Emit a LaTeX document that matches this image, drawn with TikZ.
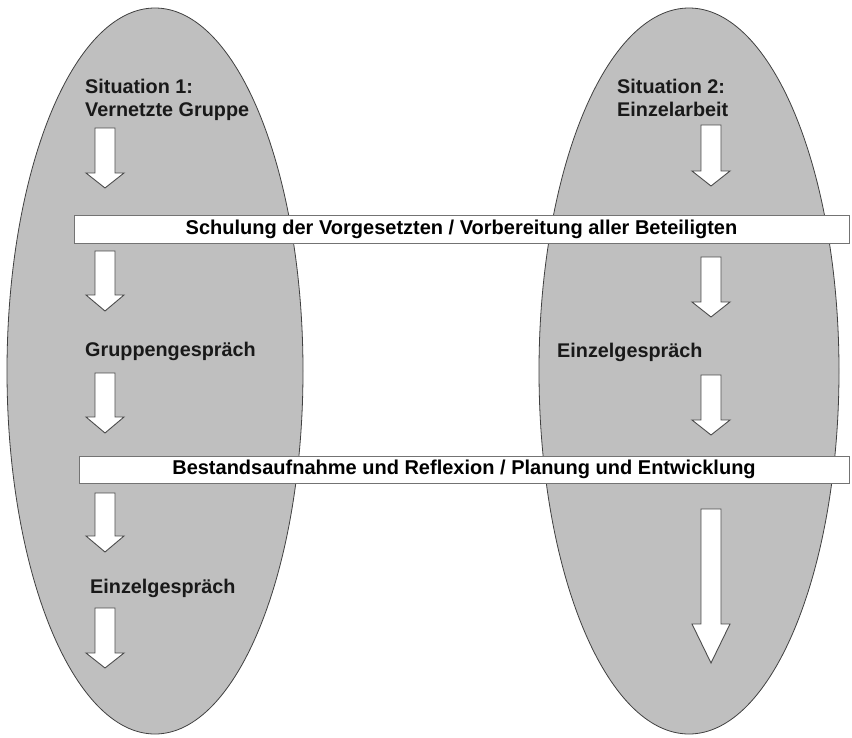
\documentclass[tikz,border=0pt]{standalone}
\usepackage{fontspec}
\setmainfont{Liberation Sans}
\tikzset{
  oval/.style={fill=black!25, draw=black!75, line width=0.8pt},
  banner/.style={draw=black!55, fill=white, line width=0.9pt, inner sep=0pt,
    font=\fontsize{20}{23}\bfseries\selectfont},
  label/.style={inner sep=0pt, align=left, text=black!90,
    font=\fontsize{19.8}{23}\bfseries\selectfont},
  arrowbox/.style={draw=black!70, fill=white, line width=0.9pt, line join=miter}
}
% x, top, start of head, tip
\newcommand{\blockdown}[4]{%
  \draw[arrowbox] (#1-10,#2) -- (#1+10,#2) -- (#1+10,#3) -- (#1+19,#3)
    -- (#1,#4) -- (#1-19,#3) -- (#1-10,#3) -- cycle;}
\begin{document}
\begin{tikzpicture}[x=1pt, y=-1pt]
        \useasboundingbox (0,0) rectangle (852,737);
        \fill[white] (0,0) rectangle (852,737);

        \draw[oval] (155,371) ellipse (148 and 363);
        \draw[oval] (689,371) ellipse (150 and 363);

        \node[label, anchor=north west] (sit1) at (85,79) {Situation 1:\\Vernetzte Gruppe};
        \node[label, anchor=north west] (sit2) at (617,79) {Situation 2:\\Einzelarbeit};

        \foreach \t/\h/\e in {128/173/188, 251/295/311, 373/417/433, 493/536/552, 608/653/668}
          {\blockdown{105}{\t}{\h}{\e}}
        \foreach \t/\h/\e in {125/171/186, 257/302/317, 375/420/435, 509/624/663}
          {\blockdown{711}{\t}{\h}{\e}}

        \node[banner, minimum width=775pt, minimum height=28pt] (schulung) at (461.5,229)
          {Schulung der Vorgesetzten / Vorbereitung aller Beteiligten};
        \node[banner, minimum width=770pt, minimum height=27pt] (bestand) at (464,469.5)
          {Bestandsaufnahme und Reflexion / Planung und Entwicklung};

        \node[label, anchor=base west] (gruppe) at (85,356) {Gruppengespräch};
        \node[label, anchor=base west] (einzelr) at (557,357) {Einzelgespräch};
        \node[label, anchor=base west] (einzell) at (90,593) {Einzelgespräch};

    \end{tikzpicture}
\end{document}
